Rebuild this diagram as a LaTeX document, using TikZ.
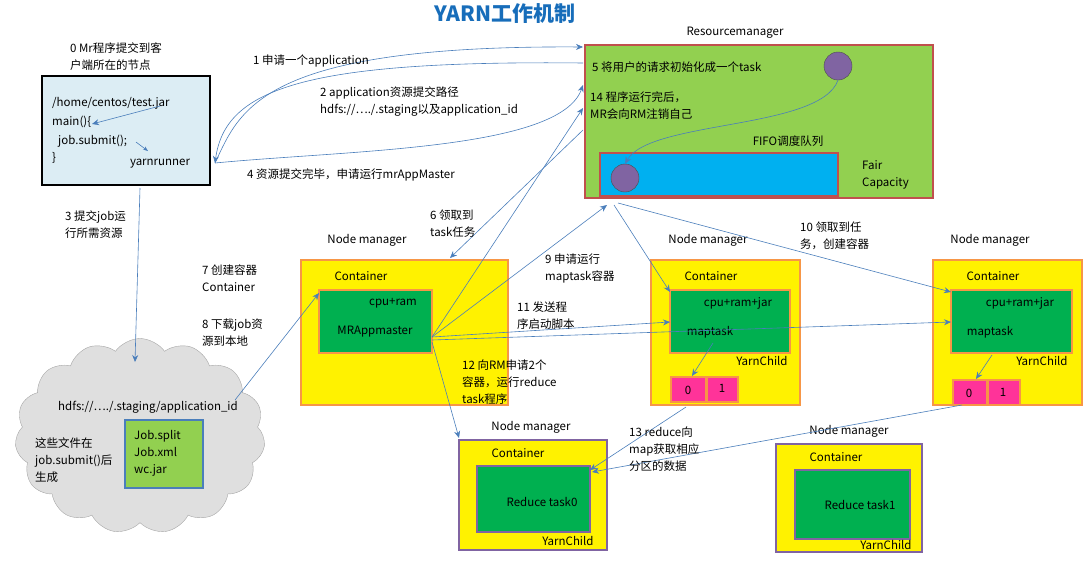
\documentclass[tikz,border=0pt]{standalone}
\usepackage{fontspec}
\setmainfont{Noto Sans CJK SC}
\usetikzlibrary{shapes.symbols,arrows.meta}
\definecolor{cbl}{RGB}{220,237,244}
\definecolor{rmg}{RGB}{146,208,80}
\definecolor{rmr}{RGB}{192,80,77}
\definecolor{pur}{RGB}{128,100,162}
\definecolor{cy}{RGB}{0,176,240}
\definecolor{org}{RGB}{247,150,70}
\definecolor{gr}{RGB}{0,176,80}
\definecolor{pk}{RGB}{255,51,153}
\definecolor{ln}{RGB}{74,126,187}
\definecolor{ttl}{RGB}{23,109,186}
\begin{document}
\begin{tikzpicture}[x=1pt,y=-1pt,
  every node/.style={font=\fontsize{11.5}{17}\selectfont,inner sep=0pt},
  lab/.style={align=left,anchor=west},
  ar/.style={draw=ln,-{Stealth[length=7pt,width=6pt]},line width=0.6pt},
  nm/.style={draw=org,fill=yellow,line width=1.8pt},
  nmp/.style={draw=pur,fill=yellow,line width=1.8pt},
  inn/.style={draw=org,fill=gr,line width=1.8pt},
  innp/.style={draw=pur,fill=gr,line width=1.8pt},
  pb/.style={draw=org,fill=pk,line width=1.5pt},
  circ/.style={circle,fill=pur,draw=black!70,minimum size=28pt}]
\useasboundingbox (0,0) rectangle (1091,560);
\node (title) at (505,14) {\fontsize{21}{24}\selectfont\bfseries\color{ttl}YARN工作机制};
% client
\draw[fill=cbl,line width=2pt] (42,76) rectangle (210,185);
\coordinate (cl) at (215,163);
\node[lab] (c0) at (52,103) {/home/centos/test.jar};
\node[lab] (c1) at (52,122) {main()\{};
\node[lab] (c2) at (58,141) {job.submit();};
\node[lab] (c3) at (52,158) {\}};
\node (yr) at (160,164) {yarnrunner};
\draw[ar] (160,106) -- (92,124);
\draw[ar,-{Stealth[length=5pt]}] (136,142) -- (148,151);
\node[lab] (t0) at (70,57) {0 Mr程序提交到客\\户端所在的节点};
% RM
\node (rmlab) at (735,33) {Resourcemanager};
\draw[draw=rmr,fill=rmg,line width=2pt] (585,45) rectangle (933,198);
\coordinate (rmL1) at (583,47); \coordinate (rmL2) at (583,63);
\coordinate (rmL3) at (583,85); \coordinate (rmL4) at (583,130);
\coordinate (rmB1) at (607,205); \coordinate (rmB2) at (614,205);
\coordinate (rmB3) at (618,203);
\node[lab] (t5) at (592,67) {5 将用户的请求初始化成一个task};
\node[lab] (t14) at (590,106) {14 程序运行完后，\\MR会向RM注销自己};
\node (fifo) at (788,141) {FIFO调度队列};
\draw[draw=rmr,fill=cy,line width=1.8pt] (600,153) rectangle (838,196);
\node[lab] (fc) at (862,175) {Fair\\Capacity};
\node[circ] (cA) at (838,66) {};
\node[circ] (cB) at (625,178) {};
\draw[ar] (cA.south) .. controls (820,130) and (650,120) .. (cB.north);
% client arrows
\draw[ar] (cl) .. controls (240,110) and (260,45) .. (rmL1);
\draw[ar] (rmL2) .. controls (300,60) and (225,90) .. (cl);
\draw[ar] (cl) .. controls (350,150) and (560,150) .. (rmL3);
\node[lab] (t1) at (253,61) {1 申请一个application};
\node[lab] (t2) at (320,102) {2 application资源提交路径\\hdfs://…./.staging以及application\_id};
\node[lab] (t4) at (247,175) {4 资源提交完毕，申请运行mrAppMaster};
\node[lab] (t3) at (65,225) {3 提交job运\\行所需资源};
% cloud
\node[cloud,cloud puffs=15,cloud puff arc=110,aspect=1.3,draw=gray!70,fill=gray!25,minimum width=250pt,minimum height=195pt] (cloud) at (140,436) {};
\node (hdfs) at (148,407) {hdfs://…./.staging/application\_id};
\draw[draw=ln,fill=rmg,line width=1.5pt] (125,420) rectangle (203,488);
\node[lab] (jobs) at (134,453) {Job.split\\Job.xml\\wc.jar};
\node[lab] (gen) at (35,460) {这些文件在\\job.submit()后\\生成};
\draw[ar] (140,188) -- (135,362);
% NM1
\node (nm1l) at (367,240) {Node manager};
\draw[nm] (301,260) rectangle (508,405);
\node (con1) at (361,276) {Container};
\draw[inn] (319,290) rectangle (432,353);
\coordinate (mr) at (432,337);
\node (cr1) at (393,303) {cpu+ram};
\node (mra) at (375,332) {MRAppmaster};
\draw[ar] (235,400) -- (319,293);
\node[lab] (t7) at (202,278) {7 创建容器\\Container};
\node[lab] (t8) at (202,333) {8 下载job资\\源到本地};
\draw[ar] (rmL4) -- (450,258);
\node[lab] (t6) at (430,224) {6 领取到\\task任务};
\draw[ar] (mr) -- (rmL4 |- 0,108) ;
\draw[ar] (mr) -- (rmB1);
\node[lab] (t9) at (545,268) {9 申请运行\\maptask容器};
% NM2
\node (nm2l) at (708,240) {Node manager};
\draw[nm] (651,260) rectangle (800,405);
\node (con2) at (711,276) {Container};
\draw[inn] (670,290) rectangle (790,353);
\node (cr2) at (738,303) {cpu+ram+jar};
\node (mt2) at (710,332) {maptask};
\node (yc2) at (762,361) {YarnChild};
\draw[pb] (671,377) rectangle (706,402); \node (p20) at (688,390) {0};
\draw[pb] (707,377) rectangle (738,402); \node (p21) at (722,388) {1};
\draw[ar] (713,343) -- (692,376);
% NM3
\node (nm3l) at (990,240) {Node manager};
\draw[nm] (933,260) rectangle (1082,405);
\node (con3) at (993,276) {Container};
\draw[inn] (951,290) rectangle (1072,353);
\node (cr3) at (1020,303) {cpu+ram+jar};
\node (mt3) at (990,332) {maptask};
\node (yc3) at (1042,361) {YarnChild};
\draw[pb] (953,380) rectangle (987,405); \node (p30) at (969,393) {0};
\draw[pb] (988,380) rectangle (1020,405); \node (p31) at (1003,392) {1};
\draw[ar] (992,355) -- (976,379);
% 10, 11
\draw[ar] (rmB2) -- (670,292);
\draw[ar] (rmB3) -- (951,292);
\node[lab] (t10) at (800,236) {10 领取到任\\务，创建容器};
\draw[ar] (mr) -- (670,322);
\draw[ar] (432,340) -- (951,322);
\node[lab] (t11) at (517,316) {11 发送程\\序启动脚本};
% reduce NMs
\node (nm4l) at (531,427) {Node manager};
\draw[nmp] (459,440) rectangle (607,550);
\node (con4) at (518,453) {Container};
\draw[innp] (477,466) rectangle (590,532);
\node (rt0) at (542,502) {Reduce task0};
\node (yc4) at (568,541) {YarnChild};
\node (nm5l) at (849,431) {Node manager};
\draw[nmp] (776,444) rectangle (922,552);
\node (con5) at (836,457) {Container};
\draw[innp] (795,470) rectangle (910,539);
\node (rt1) at (860,505) {Reduce task1};
\node (yc5) at (886,545) {YarnChild};
\draw[ar] (432,342) -- (459,438);
\node[lab] (t12) at (462,382) {12 向RM申请2个\\容器，运行reduce\\task程序};
\draw[ar] (686,407) -- (590,470);
\draw[ar] (962,405) -- (592,472);
\node[lab] (t13) at (629,449) {13 reduce向\\map获取相应\\分区的数据};
\end{tikzpicture}
\end{document}
